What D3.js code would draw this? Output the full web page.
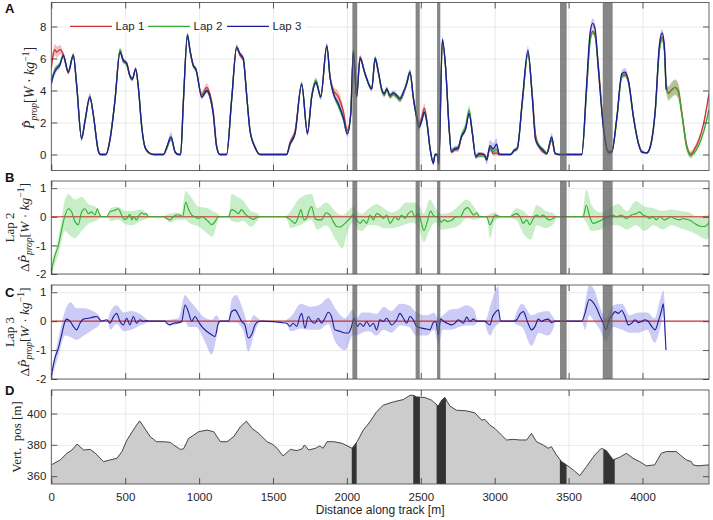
<!DOCTYPE html>
<html><head><meta charset="utf-8">
<script src="https://cdn.jsdelivr.net/npm/d3@7"></script>
<style>body{margin:0;background:#fff}svg{display:block}</style>
</head><body>
<svg id="c" width="713" height="520"></svg>
<script>
// ---------- DATA ----------
const lapNames = ["Lap 1", "Lap 2", "Lap 3"];
const xTicks = [0, 500, 1000, 1500, 2000, 2500, 3000, 3500, 4000];
const yTicksA = [0, 2, 4, 6, 8];
const yTicksBC = [-2, -1, 0, 1];
const yTicksD = [360, 380, 400];

// Panel A: distance grid and per-lap power
const dist = [0,14,25,36,59,81,115,149,171,205,
228,261,284,318,332,370,397,431,465,487,
510,532,548,571,589,612,634,657,691,759,
781,810,838,860,875,894,921,939,962,978,
1018,1052,1074,1096,1119,1141,1186,1220,1254,1276,
1299,1321,1344,1378,1412,1592,1615,1649,1694,1733,
1762,1791,1823,1864,1886,1909,1943,1976,2003,2026,
2044,2066,2089,2123,2168,2191,2213,2235,2253,2269,
2292,2314,2337,2359,2382,2404,2427,2449,2472,2488,
2506,2524,2540,2562,2585,2597,2610,2622,2646,2668,
2691,2707,2730,2752,2775,2804,2827,2849,2872,2894,
2928,2946,2968,2991,3013,3029,3040,3108,3130,3153,
3187,3225,3254,3277,3306,3329,3352,3386,3408,3431,
3589,3622,3645,3663,3679,3701,3735,3769,3792,3826,
3860,3882,3905,3939,3973,3995,4029,4052,4086,4115,
4133,4147,4160,4176,4198,4221,4243,4266,4300,4327,
4350,4379,4413,4450];
const lap1 = [5.4,6.3,6.55,6.4,6.55,6.25,5.1,6.2,4.4,1.0,
2.1,3.6,2.5,0.25,0,0,0.9,3.4,6.5,5.8,
5.7,4.9,4.75,5.35,4.2,1.75,0.45,0.15,0,0,
0.45,1.05,0.15,0,0,3.4,7.35,6.4,5.5,5.3,
3.75,4.2,3.75,2.7,0.55,0,0,3.4,6.7,6.2,
5.9,3.8,1.55,0.45,0,0,0.75,1.45,4.4,1.35,
3.6,4.55,3.6,6.75,4.9,4.0,3.6,2.7,1.5,2.5,
6.4,3.7,6.1,5.05,4.1,5.95,5.1,4.1,3.7,4.05,
3.6,3.8,3.6,3.4,3.8,4.4,5.1,3.6,2.4,1.9,
2.3,2.9,2.2,0.4,-0.5,0,0,-0.55,7.1,5.4,
1.7,0.2,0.3,0.3,1.1,1.7,2.6,1.3,-0.1,0.0,
0,-0.25,0.4,0.05,0.1,0.0,0,0,0.25,0.4,
3.3,6.3,3.8,1.2,0.4,0.15,0.05,0.9,0.05,0,
0,4.1,7.2,7.7,7.5,5.6,1.9,0.2,0.2,2.2,
4.9,5.0,4.6,2.4,0.7,0.2,0.1,0.5,2.7,6.7,
7.3,6.8,4.3,3.85,4.05,4.2,3.95,2.6,0.5,0.0,
0.3,0.85,1.9,3.8];
const lap2 = [4.6,5.0,5.3,5.45,5.7,6.2,5.2,6.25,4.4,1.0,
2.05,3.55,2.5,0.2,0,0,1.0,3.4,6.55,5.9,
5.6,4.9,4.7,5.3,4.2,1.7,0.45,0.1,0,0,
0.35,1.0,0.15,0,0,3.3,7.5,6.5,5.5,5.35,
3.6,3.95,3.55,2.5,0.45,0,0,3.4,6.7,6.3,
6.0,3.85,1.55,0.5,0,0,0.6,1.3,4.4,1.4,
3.7,4.65,3.6,6.75,4.8,3.8,3.0,2.2,1.3,2.6,
6.45,3.6,6.0,5.0,4.15,6.05,5.2,4.0,3.75,4.1,
3.65,3.75,3.6,3.4,3.8,4.5,5.2,3.5,2.3,1.7,
2.1,2.6,2.0,0.4,-0.5,0,0,-0.5,7.1,5.4,
1.8,0.25,0.4,0.45,1.2,1.8,2.8,1.4,-0.1,-0.1,
-0.1,-0.3,0.45,0.2,0.3,0.05,0,0,0.2,0.45,
3.2,6.3,3.7,1.0,0.5,0.3,0.1,1.0,0.1,0,
0,4.0,7.0,7.6,7.4,5.3,1.8,0.1,0.15,2.2,
4.85,4.95,4.5,2.3,0.7,0.2,0.1,0.45,2.6,6.5,
7.2,6.6,4.2,3.8,4.05,4.2,3.9,2.55,0.45,-0.05,
0.1,0.55,1.4,2.8];
const lap3 = [4.4,4.95,5.2,5.35,5.6,6.2,5.15,6.2,4.4,1.0,
2.1,3.6,2.5,0.25,0,0,0.9,3.4,6.4,5.9,
5.7,4.9,4.7,5.35,4.2,1.7,0.45,0.15,0,0,
0.45,1.1,0.15,0,0,3.4,7.45,6.5,5.55,5.35,
3.6,4.0,3.6,2.5,0.45,0,0,3.4,6.7,6.3,
6.0,3.8,1.5,0.45,0,0,0.65,1.3,4.4,1.3,
3.6,4.5,3.6,6.8,4.8,3.8,3.15,2.3,1.3,2.55,
6.5,3.6,6.0,5.05,4.1,6.0,5.15,4.1,3.8,4.1,
3.7,3.85,3.7,3.5,3.9,4.4,5.15,3.6,2.3,1.7,
2.1,2.65,2.1,0.45,-0.55,0,0,-0.6,7.2,5.45,
1.7,0.15,0.35,0.4,1.1,1.6,2.55,1.3,-0.15,0.05,
0,-0.35,0.55,0.35,0.65,0.05,0,0,0.25,0.35,
3.4,6.5,3.6,0.9,0.45,0.25,0.05,1.1,0.1,0,
0,4.4,7.55,8.2,7.85,5.45,1.7,0.15,0.15,2.3,
5.05,5.15,4.6,2.3,0.65,0.15,0.1,0.45,2.75,6.9,
7.6,6.9,4.05,null,null,null,null,null,null,null,
null,null,null,null];
// half-width of the shaded spread around each lap
const sd1 = [0.3,0.35,0.35,0.35,0.3,0.2,0.12,0.12,0.12,0.15,
0.12,0.15,0.12,0.1,0.03,0.03,0.1,0.12,0.15,0.12,
0.12,0.12,0.12,0.12,0.12,0.12,0.1,0.05,0.03,0.03,
0.1,0.12,0.1,0.03,0.03,0.12,0.15,0.15,0.12,0.12,
0.2,0.25,0.2,0.2,0.12,0.03,0.03,0.12,0.15,0.12,
0.12,0.12,0.12,0.1,0.03,0.03,0.15,0.2,0.15,0.15,
0.15,0.15,0.15,0.15,0.15,0.25,0.35,0.3,0.2,0.15,
0.15,0.15,0.15,0.15,0.15,0.15,0.15,0.15,0.15,0.15,
0.15,0.15,0.15,0.15,0.2,0.15,0.15,0.15,0.2,0.25,
0.25,0.3,0.2,0.15,0.15,0.05,0.05,0.15,0.15,0.15,
0.15,0.15,0.15,0.15,0.15,0.15,0.15,0.15,0.15,0.15,
0.1,0.15,0.15,0.15,0.15,0.1,0.03,0.03,0.1,0.12,
0.15,0.15,0.2,0.25,0.15,0.12,0.1,0.15,0.1,0.03,
0.03,0.15,0.15,0.15,0.15,0.15,0.15,0.1,0.1,0.12,
0.15,0.15,0.15,0.15,0.1,0.1,0.05,0.1,0.15,0.15,
0.2,0.2,0.3,0.4,0.45,0.45,0.45,0.4,0.3,0.2,
0.2,0.2,0.2,0.2];
const sd2 = [0.2,0.2,0.2,0.15,0.15,0.15,0.12,0.12,0.12,0.15,
0.12,0.15,0.12,0.1,0.03,0.03,0.1,0.12,0.15,0.12,
0.12,0.12,0.12,0.12,0.12,0.12,0.1,0.05,0.03,0.03,
0.1,0.12,0.1,0.03,0.03,0.12,0.15,0.15,0.12,0.12,
0.12,0.12,0.12,0.12,0.1,0.03,0.03,0.12,0.15,0.12,
0.12,0.12,0.12,0.1,0.03,0.03,0.1,0.15,0.15,0.15,
0.2,0.2,0.15,0.15,0.15,0.15,0.15,0.15,0.15,0.15,
0.15,0.15,0.15,0.15,0.15,0.15,0.15,0.15,0.15,0.15,
0.15,0.15,0.15,0.15,0.15,0.15,0.15,0.15,0.15,0.15,
0.15,0.15,0.15,0.15,0.15,0.05,0.05,0.15,0.15,0.15,
0.15,0.15,0.15,0.15,0.2,0.25,0.3,0.2,0.15,0.1,
0.1,0.15,0.15,0.15,0.15,0.1,0.03,0.03,0.1,0.12,
0.15,0.15,0.2,0.2,0.15,0.12,0.1,0.15,0.1,0.03,
0.03,0.15,0.15,0.15,0.15,0.15,0.15,0.1,0.1,0.12,
0.15,0.15,0.15,0.15,0.1,0.1,0.05,0.1,0.15,0.2,
0.2,0.2,0.3,0.45,0.5,0.5,0.5,0.45,0.3,0.2,
0.15,0.15,0.15,0.15];
const sd3 = [0.25,0.25,0.25,0.2,0.2,0.15,0.15,0.15,0.15,0.2,
0.15,0.25,0.15,0.1,0.05,0.05,0.1,0.15,0.2,0.15,
0.15,0.15,0.15,0.15,0.15,0.15,0.1,0.05,0.03,0.03,
0.1,0.3,0.1,0.03,0.03,0.15,0.25,0.2,0.15,0.15,
0.15,0.15,0.15,0.15,0.1,0.03,0.03,0.15,0.2,0.15,
0.15,0.15,0.15,0.1,0.03,0.03,0.1,0.15,0.2,0.2,
0.2,0.2,0.2,0.2,0.2,0.2,0.2,0.2,0.2,0.15,
0.2,0.2,0.15,0.15,0.15,0.15,0.15,0.15,0.15,0.15,
0.15,0.15,0.15,0.15,0.15,0.15,0.2,0.15,0.2,0.2,
0.2,0.2,0.2,0.15,0.15,0.05,0.05,0.15,0.2,0.15,
0.15,0.1,0.15,0.15,0.15,0.15,0.2,0.15,0.15,0.1,
0.1,0.3,0.35,0.35,0.35,0.1,0.03,0.03,0.1,0.15,
0.2,0.25,0.2,0.2,0.15,0.15,0.1,0.25,0.1,0.03,
0.03,0.2,0.3,0.3,0.3,0.2,0.15,0.1,0.1,0.15,
0.2,0.25,0.2,0.15,0.1,0.1,0.05,0.1,0.15,0.25,
0.25,0.2,0.2,0,0,0,0,0,0,0,
0,0,0,0];

// Panel B: Lap 2 minus Lap 1
const distB = [0,25,48,70,93,115,138,160,183,205,
228,251,273,296,311,329,340,374,397,431,
453,476,492,510,532,545,555,577,595,611,
626,641,657,760,781,803,826,848,870,889,
909,927,950,972,995,1017,1040,1063,1085,1108,
1130,1198,1220,1243,1265,1288,1310,1333,1367,1401,
1420,1581,1615,1649,1671,1689,1709,1727,1745,1761,
1784,1806,1829,1858,1886,1908,1931,1953,1987,2021,
2044,2066,2089,2111,2134,2156,2179,2201,2224,2246,
2269,2292,2326,2348,2370,2393,2415,2438,2460,2483,
2505,2521,2544,2566,2584,2602,2619,2637,2659,2682,
2711,2741,2768,2795,2818,2840,2858,2880,2896,2945,
2968,2986,3001,3024,3040,3105,3125,3148,3171,3193,
3216,3238,3261,3283,3306,3328,3351,3373,3395,3413,
3598,3620,3643,3666,3700,3733,3767,3801,3823,3857,
3891,3925,3958,3981,4003,4026,4048,4071,4093,4116,
4149,4171,4194,4216,4251,4273,4296,4318,4352,4386,
4420,4450];
const diffB = [-1.9,-1.35,-1.0,-0.45,0.05,0.28,0.17,-0.17,-0.28,0.17,
0.28,0.11,0.17,0.06,0.28,0.06,0,0,0.17,0.23,
0.28,0.06,-0.09,-0.06,0.09,-0.11,0,-0.11,0.06,0.14,
0.09,0.11,0,0,-0.06,-0.11,0,0.06,0.06,0,
0.51,0.28,0.06,0,-0.06,0,-0.06,-0.17,-0.28,-0.17,
0,0,0.25,0.2,0.11,0.25,0.11,0,-0.09,0,
0,0,-0.09,-0.23,0,0.25,-0.11,-0.06,0.23,0.36,
-0.06,-0.11,-0.11,0.14,0.06,-0.17,-0.34,-0.36,-0.23,-0.06,
0.09,-0.11,-0.23,-0.11,-0.23,0.06,-0.11,0.11,0.06,-0.06,
0.06,-0.23,0,-0.11,0.06,-0.06,0.11,0.2,0,0.11,
-0.23,-0.48,-0.17,0.2,0.06,0,0,-0.2,-0.11,-0.17,
-0.11,0,0,0.25,0.32,0.17,0.06,0.14,0,0,
-0.28,-0.11,0.06,0.02,0,0,0.06,0.11,0,-0.23,
-0.11,-0.28,-0.06,0.06,0,0.06,-0.06,-0.11,-0.06,0,
0,0.4,0,-0.23,-0.17,-0.09,0,0.06,0,0.06,
-0.06,0.06,0.11,0.17,0.06,0.02,-0.06,0,-0.11,0,
-0.11,-0.06,0,-0.06,-0.11,-0.06,-0.09,-0.11,-0.23,-0.32,
-0.34,-0.2];
// spread envelope [distance, low, high]
const spreadB = [[0,-2.0,-1.55],[48,-1.3,-0.75],[93,-0.5,0.6],[115,-0.6,0.8],[160,-0.75,0.6],[205,-0.5,0.7],[250,-0.25,0.45],[300,-0.15,0.35],[330,-0.05,0.1],[340,0,0],[374,0,0],[385,-0.05,0.1],[400,-0.15,0.3],[450,-0.1,0.35],[500,-0.25,0.2],[550,-0.3,0.2],[600,-0.15,0.25],[650,-0.05,0.1],[662,0,0],[760,0,0],[772,-0.05,0.05],[800,-0.2,0.1],[850,-0.1,0.15],[880,-0.1,0.1],[909,-0.1,0.9],[930,-0.2,0.8],[1000,-0.35,0.35],[1060,-0.6,0.3],[1090,-0.7,0.2],[1130,-0.1,0.1],[1142,0,0],[1195,0,0],[1205,-0.05,0.2],[1220,-0.15,0.8],[1260,-0.2,0.7],[1300,-0.15,0.55],[1350,-0.35,0.2],[1400,-0.1,0.1],[1415,0,0],[1580,0,0],[1595,-0.1,0.05],[1620,-0.4,0.2],[1680,-0.3,0.65],[1760,-0.1,0.8],[1800,-0.45,0.3],[1860,-0.3,0.5],[1930,-0.85,0.15],[1970,-1.1,0.05],[2000,-0.6,0.15],[2040,-0.2,0.35],[2066,-0.4,0.2],[2100,-0.5,0.1],[2150,-0.3,0.3],[2200,-0.3,0.45],[2250,-0.4,0.3],[2300,-0.4,0.15],[2350,-0.35,0.25],[2400,-0.25,0.5],[2450,-0.2,0.5],[2500,-0.6,0.3],[2520,-0.9,0.1],[2560,-0.45,0.6],[2600,-0.2,0.3],[2640,-0.45,0.1],[2700,-0.4,0.15],[2760,-0.3,0.4],[2810,-0.05,0.6],[2860,-0.1,0.35],[2900,-0.05,0.05],[2930,0,0],[2950,-0.1,0.05],[2968,-0.75,0.1],[3000,-0.15,0.15],[3030,-0.05,0.05],[3042,0,0],[3100,0,0],[3112,-0.05,0.1],[3145,-0.1,0.3],[3195,-0.6,0.2],[3245,-0.8,0.0],[3285,-0.3,0.4],[3345,-0.4,0.2],[3405,-0.2,0.1],[3420,0,0],[3590,0,0],[3600,-0.05,0.3],[3620,-0.2,0.95],[3655,-0.5,0.4],[3715,-0.45,0.15],[3775,-0.3,0.3],[3835,-0.3,0.45],[3895,-0.45,0.2],[3955,-0.3,0.55],[4015,-0.5,0.35],[4075,-0.3,0.3],[4135,-0.45,0.2],[4195,-0.3,0.25],[4255,-0.4,0.2],[4315,-0.5,0.15],[4375,-0.65,0.0],[4435,-0.8,0.05],[4450,-0.7,0.1]];

// Panel C: Lap 3 minus Lap 1
const distC = [0,25,48,70,93,104,127,149,171,194,
217,251,284,307,329,340,374,397,420,442,
465,487,510,532,555,577,600,622,645,660,
770,781,803,826,860,882,905,927,950,972,
995,1017,1051,1085,1108,1130,1145,1198,1220,1243,
1265,1288,1310,1333,1355,1378,1401,1420,1592,1615,
1637,1660,1682,1694,1716,1739,1761,1784,1806,1829,
1851,1874,1896,1919,1953,1987,2010,2032,2048,2071,
2089,2111,2134,2156,2179,2201,2224,2246,2269,2303,
2337,2359,2382,2404,2427,2449,2472,2505,2539,2562,
2584,2602,2618,2634,2657,2679,2709,2731,2754,2788,
2810,2832,2855,2877,2930,2946,2968,2986,3009,3025,
3040,3126,3149,3172,3194,3221,3250,3273,3295,3318,
3340,3363,3385,3408,3589,3611,3640,3663,3690,3713,
3735,3753,3776,3798,3814,3837,3859,3882,3904,3927,
3949,3972,3994,4017,4039,4062,4085,4107,4130,4141,
4152,4159];
const diffC = [-1.9,-1.27,-0.93,-0.47,0,0.07,-0.01,-0.18,-0.3,-0.07,
0.07,0.1,0.14,0.16,0.05,0,0.05,-0.07,0.14,0.27,
-0.01,-0.13,0.1,-0.13,0.16,-0.07,0.05,-0.01,0.02,0,
0,-0.07,-0.13,-0.07,-0.05,-0.01,0.56,0.33,-0.01,0.16,
-0.01,-0.18,-0.35,-0.47,-0.53,-0.07,0,0,0.33,0.39,
0.22,-0.01,-0.13,-0.58,-0.47,-0.13,-0.01,0,-0.07,-0.18,
-0.07,-0.18,0.16,0.27,-0.24,0.16,-0.01,-0.07,0.1,-0.07,
0.1,0.31,0.16,-0.3,-0.35,-0.41,-0.41,-0.18,0.1,-0.18,
-0.07,-0.18,-0.01,-0.18,-0.07,-0.3,0.05,-0.01,0.1,-0.13,
0.05,0.27,0.1,-0.07,0.16,0.05,-0.18,-0.24,-0.27,-0.3,
-0.05,-0.01,-0.47,0.07,-0.01,-0.07,-0.13,-0.07,0.05,-0.07,
0.14,-0.01,0.07,0,0,-0.05,-0.13,0.16,0.33,0.39,
0,0,0.05,0.25,0.33,-0.01,-0.3,-0.18,0.07,-0.01,
0.05,0.07,-0.05,0,0,0.27,0.75,0.67,0.45,0.16,
-0.07,-0.3,0.07,0.22,0.33,0.27,0.37,0.16,-0.13,-0.07,
0.05,-0.05,-0.01,0.05,-0.01,-0.18,-0.3,-0.01,0.39,0.6,
-0.3,-1.0];
const spreadC = [[0,-2.0,-1.7],[48,-1.2,-0.6],[93,-0.5,0.35],[130,-0.55,0.65],[171,-0.65,0.45],[220,-0.5,0.45],[280,-0.3,0.35],[329,-0.1,0.15],[340,0,0],[374,0,0],[385,-0.05,0.1],[397,-0.3,0.3],[442,-0.1,0.55],[490,-0.35,0.3],[540,-0.3,0.35],[600,-0.15,0.25],[650,-0.05,0.05],[662,0,0],[770,0,0],[780,-0.05,0.03],[800,-0.15,0.05],[860,-0.1,0.1],[905,0.0,0.9],[930,-0.2,0.75],[980,-0.2,0.45],[1030,-0.6,0.15],[1085,-1.15,0.05],[1120,-0.5,0.2],[1140,-0.03,0.03],[1150,0,0],[1195,0,0],[1205,-0.05,0.2],[1220,-0.05,0.75],[1250,-0.05,0.9],[1300,-0.35,0.35],[1333,-1.05,-0.1],[1370,-0.5,0.2],[1400,-0.1,0.1],[1420,0,0],[1580,0,0],[1592,-0.1,0.05],[1620,-0.35,0.15],[1690,-0.25,0.6],[1750,-0.3,0.5],[1810,-0.3,0.55],[1874,-0.1,0.8],[1920,-0.7,0.45],[1990,-1.0,0.1],[2040,-0.5,0.4],[2066,-0.5,0.1],[2100,-0.4,0.3],[2150,-0.35,0.3],[2200,-0.5,0.25],[2250,-0.3,0.5],[2300,-0.4,0.35],[2360,-0.15,0.6],[2420,-0.2,0.55],[2470,-0.5,0.3],[2540,-0.5,0.2],[2590,-0.3,0.3],[2618,-0.8,0.1],[2650,-0.3,0.2],[2700,-0.3,0.4],[2760,-0.2,0.45],[2810,-0.15,0.55],[2860,-0.15,0.4],[2885,-0.03,0.03],[2900,0,0],[2930,0,0],[2946,-0.3,0.1],[2968,-0.5,0.5],[3000,-0.2,1.0],[3025,-0.1,1.2],[3035,-0.05,0.3],[3042,0,0],[3126,0,0],[3140,-0.1,0.2],[3185,-0.2,0.6],[3250,-0.85,0.2],[3300,-0.4,0.3],[3360,-0.5,0.35],[3400,-0.2,0.1],[3412,0,0],[3589,0,0],[3611,-0.3,0.6],[3640,0.2,1.25],[3672,0.0,1.1],[3712,-0.3,0.5],[3752,-0.7,0.1],[3802,-0.2,0.55],[3862,-0.3,0.6],[3912,-0.4,0.2],[3972,-0.4,0.3],[4032,-0.3,0.3],[4082,-0.75,0.1],[4122,-0.2,0.8],[4141,0.2,1.05],[4152,-0.6,0.4],[4159,-1.1,-0.9]];

// Panel D: elevation profile
const elevDist = [0,61,106,140,174,219,264,298,354,399,
444,478,512,569,598,625,670,711,760,805,
828,873,895,929,963,997,1054,1099,1144,1189,
1234,1279,1320,1358,1403,1460,1494,1528,1568,1618,
1663,1697,1713,1742,1787,1817,1839,1866,1911,1967,
2035,2069,2111,2156,2201,2246,2314,2382,2427,2449,
2472,2528,2573,2618,2641,2663,2697,2742,2810,2866,
2911,2934,2967,3001,3046,3080,3125,3170,3216,3249,
3283,3328,3362,3384,3418,3452,3486,3531,3576,3621,
3677,3722,3756,3801,3846,3891,3936,3981,4026,4082,
4127,4161,4229,4263,4296,4330,4342,4375,4450];
const elev = [367.2,370.4,374.6,376.7,380.5,376.7,377.1,374.6,369.3,370.4,
371.4,375.7,383.1,391.5,395.3,391.5,385.2,382,382,381.6,
379.9,377.1,377.5,384.1,386.2,388.4,389.4,388.4,382,382,
385.2,391.5,395.1,390.5,387.3,382,380.5,377.8,372.9,377.1,
376.3,377.5,379.9,376.7,377.8,379.3,377.8,382,382,381,
377.8,382,389.4,394.7,401.1,405.3,407.4,408.9,411.6,411.6,
410.6,410.2,408.5,404.7,408.5,410.2,404.7,402.1,401.7,400.4,
395.8,396.2,392.6,390.5,386.2,383.1,383.5,383.1,383.1,387.3,
382,379.9,377.8,378.8,373.5,369.3,367.2,364,360.4,366.1,
373.5,377.8,376.3,370.4,372.1,374.6,371.4,369.3,366.6,367.2,
374.6,375.7,375.7,372.9,370.4,369.3,367.2,366.6,367.2];

// marked track sections [start, end] in metres
const sections = [[2037,2070],[2465,2493],[2610,2632],[3442,3487],[3731,3798]];
const sectionsD = [[2033,2066],[2449,2494],[2607,2670],[3441,3486],[3735,3812]];

// ---------- DRAWING ----------
const svg = d3.select("#c");
const L = 51.3, R = 709;
const x = d3.scaleLinear().domain([0, 4450]).range([L, R]);
const COL = ["#cc3333", "#2fae2f", "#1c1c96"];
const BAND = ["rgba(215,70,70,0.33)", "rgba(60,190,60,0.3)", "rgba(70,70,210,0.3)"];
const TXT = "#262626";
const SANS = "'Liberation Sans', Arial, sans-serif";
const SERIF = "'Liberation Serif', 'Times New Roman', serif";

const defs = svg.append("defs");

function makePanel(id, top, bottom, dom, yTicks, showXLabels) {
  const y = d3.scaleLinear().domain(dom).range([bottom, top]);
  const g = svg.append("g");
  const h = bottom - top;
  g.append("g").attr("transform", `translate(0,${bottom})`)
    .call(d3.axisBottom(x).tickValues(xTicks).tickSize(-h).tickFormat(""))
    .call(s => { s.select(".domain").remove(); s.selectAll("line").attr("stroke", "#e3e3e3").attr("stroke-width", 0.8); });
  g.append("g").attr("transform", `translate(${L},0)`)
    .call(d3.axisLeft(y).tickValues(yTicks).tickSize(-(R - L)).tickFormat(""))
    .call(s => { s.select(".domain").remove(); s.selectAll("line").attr("stroke", "#e3e3e3").attr("stroke-width", 0.8); });
  defs.append("clipPath").attr("id", "clip" + id)
    .append("rect").attr("x", L).attr("y", top).attr("width", R - L).attr("height", h);
  const plot = g.append("g").attr("clip-path", `url(#clip${id})`);
  const over = g.append("g");
  return { y, g, plot, over, top, bottom, yTicks, showXLabels };
}

function finishPanel(p) {
  const { g, y, top, bottom, yTicks, showXLabels } = p;
  g.append("rect").attr("x", L).attr("y", top).attr("width", R - L).attr("height", bottom - top)
    .attr("fill", "none").attr("stroke", "#555").attr("stroke-width", 0.9);
  const fmt = d => String(d);
  const style = s => {
    s.select(".domain").remove();
    s.selectAll("line").attr("stroke", "#333").attr("stroke-width", 0.8);
    s.selectAll("text").attr("fill", TXT).attr("font-family", SANS).attr("font-size", 11.5);
  };
  g.append("g").attr("transform", `translate(0,${bottom})`)
    .call(d3.axisBottom(x).tickValues(xTicks).tickSize(-6).tickPadding(9)
      .tickFormat(showXLabels ? fmt : () => "")).call(style);
  g.append("g").attr("transform", `translate(0,${top})`)
    .call(d3.axisTop(x).tickValues(xTicks).tickSize(-6).tickFormat("")).call(style);
  g.append("g").attr("transform", `translate(${L},0)`)
    .call(d3.axisLeft(y).tickValues(yTicks).tickSize(-6).tickPadding(5).tickFormat(fmt)).call(style);
  g.append("g").attr("transform", `translate(${R},0)`)
    .call(d3.axisRight(y).tickValues(yTicks).tickSize(-6).tickFormat("")).call(style);
}

function drawSections(p) {
  p.over.selectAll("rect.sec").data(sections).join("rect").attr("class", "sec")
    .attr("x", d => x(d[0])).attr("width", d => x(d[1]) - x(d[0]))
    .attr("y", p.top).attr("height", p.bottom - p.top)
    .attr("fill", "#5e5e5e").attr("opacity", 0.75);
}

// ----- Panel A -----
const pA = makePanel("A", 2.5, 170.5, [-1, 9.5], yTicksA, false);
const laps = [lap1, lap2, lap3], sds = [sd1, sd2, sd3];
const curve = d3.curveMonotoneX;
laps.forEach((lap, k) => {
  const pts = dist.map((d, i) => ({ d, v: lap[i], s: sds[k][i] })).filter(o => o.v !== null);
  pA.plot.append("path").datum(pts)
    .attr("d", d3.area().curve(curve).x(o => x(o.d)).y0(o => pA.y(o.v - o.s)).y1(o => pA.y(o.v + o.s)))
    .attr("fill", BAND[k]);
});
laps.forEach((lap, k) => {
  const pts = dist.map((d, i) => ({ d, v: lap[i] })).filter(o => o.v !== null);
  pA.plot.append("path").datum(pts)
    .attr("d", d3.line().curve(curve).x(o => x(o.d)).y(o => pA.y(o.v)))
    .attr("fill", "none").attr("stroke", COL[k]).attr("stroke-width", 1.3);
});
drawSections(pA);
finishPanel(pA);

// legend
const lg = svg.append("g");
lg.append("rect").attr("x", 66).attr("y", 19.5).attr("width", 240).attr("height", 13.5).attr("fill", "#fff");
const legX = [70, 148, 227];
lapNames.forEach((n, k) => {
  lg.append("line").attr("x1", legX[k]).attr("x2", legX[k] + 42).attr("y1", 26.3).attr("y2", 26.3)
    .attr("stroke", COL[k]).attr("stroke-width", 1.3);
  lg.append("text").attr("x", legX[k] + 45.5).attr("y", 30.3).text(n)
    .attr("font-family", SANS).attr("font-size", 11.5).attr("fill", TXT);
});

// ----- Panels B, C -----
function diffPanel(id, top, bottom, dArr, vArr, spread, col, band) {
  const p = makePanel(id, top, bottom, [-2, 1.25], yTicksBC, false);
  p.plot.append("path").datum(spread)
    .attr("d", d3.area().curve(d3.curveMonotoneX).x(s => x(s[0])).y0(s => p.y(s[1])).y1(s => p.y(s[2])))
    .attr("fill", band);
  const ref = d3.extent(dist).map(d => ({ d, v: 0 }));
  p.plot.append("path").datum(ref)
    .attr("d", d3.line().x(o => x(o.d)).y(o => p.y(o.v)))
    .attr("stroke", COL[0]).attr("stroke-width", 1.2).attr("fill", "none");
  const pts = dArr.map((d, i) => ({ d, v: vArr[i] }));
  p.plot.append("path").datum(pts)
    .attr("d", d3.line().curve(d3.curveMonotoneX).x(o => x(o.d)).y(o => p.y(o.v)))
    .attr("stroke", col).attr("stroke-width", 1.1).attr("fill", "none");
  drawSections(p);
  finishPanel(p);
  return p;
}
diffPanel("B", 181, 274, distB, diffB, spreadB, COL[1], "rgba(70,200,70,0.3)");
diffPanel("C", 285, 379, distC, diffC, spreadC, COL[2], "rgba(105,105,230,0.35)");

// ----- Panel D -----
const pD = makePanel("D", 390, 484, [355, 415], yTicksD, true);
const epts = elevDist.map((d, i) => ({ d, v: elev[i] }));
const earea = d3.area().x(o => x(o.d)).y0(pD.y(355)).y1(o => pD.y(o.v));
pD.plot.append("path").datum(epts).attr("d", earea).attr("fill", "#cccccc");
const cp = defs.append("clipPath").attr("id", "secD");
cp.selectAll("rect").data(sectionsD).join("rect")
  .attr("x", d => x(d[0])).attr("width", d => x(d[1]) - x(d[0])).attr("y", 390).attr("height", 94);
pD.plot.append("g").attr("clip-path", "url(#secD)")
  .append("path").datum(epts).attr("d", earea).attr("fill", "#333");
pD.plot.append("path").datum(epts).attr("d", d3.line().x(o => x(o.d)).y(o => pD.y(o.v)))
  .attr("fill", "none").attr("stroke", "#333").attr("stroke-width", 0.9);
finishPanel(pD);

// ---------- TEXT ----------
svg.append("text").attr("x", (L + R) / 2).attr("y", 514).attr("text-anchor", "middle")
  .attr("font-family", SANS).attr("font-size", 12).attr("fill", TXT).text("Distance along track [m]");

[["A", 13], ["B", 182], ["C", 297], ["D", 395]].forEach(([t, yy]) => {
  svg.append("text").attr("x", 5).attr("y", yy).text(t)
    .attr("font-family", SANS).attr("font-weight", "bold").attr("font-size", 13).attr("fill", "#111");
});

function powerLabel(sel, delta) {
  if (delta) sel.append("tspan").text("\u0394");
  sel.append("tspan").attr("font-style", "italic").text("P\u0302");
  sel.append("tspan").attr("font-style", "italic").attr("font-size", 9.5).attr("dy", 3).text("prop");
  sel.append("tspan").attr("dy", -3).text("[");
  sel.append("tspan").attr("font-style", "italic").text("W");
  sel.append("tspan").text(" \u00B7 ");
  sel.append("tspan").attr("font-style", "italic").text("kg");
  sel.append("tspan").attr("font-size", 9.5).attr("dy", -5).text("\u22121");
  sel.append("tspan").attr("dy", 5).text("]");
}
const labA = svg.append("text").attr("transform", "translate(34,88) rotate(-90)")
  .attr("text-anchor", "middle").attr("font-family", SERIF).attr("font-size", 14).attr("fill", TXT);
powerLabel(labA, false);

[["Lap 2", 227.5], ["Lap 3", 332]].forEach(([t, cy]) => {
  svg.append("text").attr("transform", `translate(13.5,${cy}) rotate(-90)`).attr("text-anchor", "middle")
    .attr("font-family", SERIF).attr("font-size", 13).attr("fill", TXT).text(t);
  const lab = svg.append("text").attr("transform", `translate(29,${cy}) rotate(-90)`)
    .attr("text-anchor", "middle").attr("font-family", SERIF).attr("font-size", 13.5).attr("fill", TXT);
  powerLabel(lab, true);
});

svg.append("text").attr("transform", "translate(21,437) rotate(-90)").attr("text-anchor", "middle")
  .attr("font-family", SERIF).attr("font-size", 13).attr("fill", TXT).text("Vert.\u00A0 pos [m]");
</script>
</body></html>
